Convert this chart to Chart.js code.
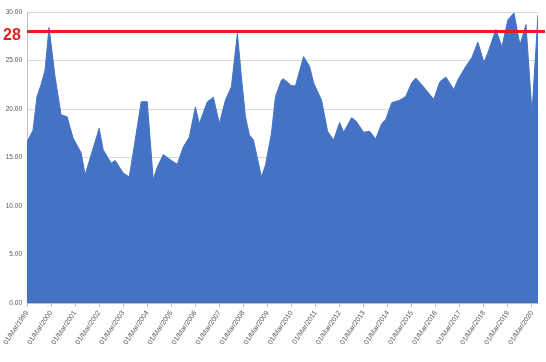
<!DOCTYPE html>
<html>
<head>
<meta charset="utf-8">
<script src="https://cdn.jsdelivr.net/npm/chart.js@4/dist/chart.umd.min.js"></script>
<style>
  html, body { margin: 0; padding: 0; background: #fff; }
  #wrap { width: 546px; height: 362px; position: relative; }
</style>
</head>
<body>
<div id="wrap"><canvas id="chart"></canvas></div>
<script>
// months counted from 01/Mar/1999
const monthIndex = [
  0, 3, 5, 7, 9, 11, 14, 17, 20, 23, 27, 29, 36, 38, 42, 44, 48, 51, 53, 57,
  60, 63, 65, 68, 72, 75, 78, 81, 84, 86, 90, 93, 96, 99, 102, 105, 107, 109, 111, 113,
  117, 119, 122, 124, 127, 128, 132, 134, 138, 141, 143, 147, 150, 153, 156, 158, 162, 164, 168, 171,
  174, 177, 179, 182, 186, 189, 192, 194, 197, 203, 206, 209, 213, 215, 219, 222, 225, 228, 230, 234,
  237, 240, 243, 246, 249, 252, 255
];
const values = [
  16.6, 17.8, 21.3, 22.5, 24.0, 28.4, 23.3, 19.4, 19.2, 17.0, 15.5, 13.2, 18.0, 15.8, 14.4, 14.7, 13.4, 13.0, 15.5, 20.75,
  20.75, 12.7, 14.0, 15.3, 14.7, 14.3, 16.1, 17.1, 20.2, 18.5, 20.75, 21.2, 18.5, 20.9, 22.3, 27.8, 23.3, 19.2, 17.3, 16.8,
  13.0, 14.2, 17.5, 21.3, 23.0, 23.1, 22.4, 22.4, 25.4, 24.4, 22.7, 20.9, 17.7, 16.8, 18.6, 17.6, 19.1, 18.8, 17.6, 17.7,
  16.9, 18.5, 18.9, 20.65, 20.9, 21.3, 22.7, 23.2, 22.5, 21.0, 22.8, 23.3, 22.0, 23.0, 24.4, 25.3, 26.9, 24.8, 25.8, 28.2,
  26.4, 29.2, 29.9, 26.6, 28.7, 19.6, 29.7
];
const tickLabels = [
  '01/Mar/1999', '01/Mar/2000', '01/Mar/2001', '01/Mar/2002', '01/Mar/2003', '01/Mar/2004',
  '01/Mar/2005', '01/Mar/2006', '01/Mar/2007', '01/Mar/2008', '01/Mar/2009', '01/Mar/2010',
  '01/Mar/2011', '01/Mar/2012', '01/Mar/2013', '01/Mar/2014', '01/Mar/2015', '01/Mar/2016',
  '01/Mar/2017', '01/Mar/2018', '01/Mar/2019', '01/Mar/2020'
];
const refValue = 28;

const points = monthIndex.map((m, i) => ({ x: m, y: values[i] }));

const refLine = {
  id: 'refLine',
  afterDatasetsDraw(chart) {
    const { ctx, scales } = chart;
    const y = scales.y.getPixelForValue(refValue);
    ctx.save();
    ctx.strokeStyle = '#e3211c';
    ctx.lineWidth = 3;
    ctx.beginPath();
    ctx.moveTo(chart.chartArea.left, y);
    ctx.lineTo(chart.width - 1, y);
    ctx.stroke();
    ctx.fillStyle = '#e3211c';
    ctx.font = 'bold 16px "Liberation Sans Narrow", "Liberation Sans", Arial, sans-serif';
    ctx.textBaseline = 'middle';
    ctx.textAlign = 'left';
    ctx.fillText(String(refValue), 3, y + 4);
    ctx.restore();
  }
};

new Chart(document.getElementById('chart'), {
  type: 'line',
  data: {
    datasets: [{
      data: points,
      backgroundColor: '#4472c4',
      borderColor: '#4472c4',
      borderWidth: 1,
      pointRadius: 0,
      fill: 'origin',
      tension: 0
    }]
  },
  options: {
    responsive: true,
    maintainAspectRatio: false,
    animation: false,
    layout: { padding: { top: 12, right: 8, left: 0, bottom: 0 } },
    plugins: { legend: { display: false }, tooltip: { enabled: false } },
    scales: {
      x: {
        type: 'linear',
        min: 0,
        max: 255,
        afterFit(scale) { scale.height = 59; },
        afterBuildTicks(scale) {
          scale.ticks = tickLabels.map((_, i) => ({ value: i * 12 }));
        },
        ticks: {
          autoSkip: false,
          maxRotation: 56,
          minRotation: 56,
          padding: 2,
          color: '#595959',
          font: { size: 7, family: 'Liberation Sans, Arial, sans-serif' },
          callback: (v) => tickLabels[Math.round(v / 12)] || ''
        },
        grid: { drawOnChartArea: false, drawTicks: true, tickLength: 4, color: '#bfbfbf' },
        border: { color: '#bfbfbf' }
      },
      y: {
        min: 0,
        max: 30,
        afterFit(scale) { scale.width = 27; },
        ticks: {
          stepSize: 5,
          padding: 5,
          color: '#595959',
          font: { size: 6.5, family: 'Liberation Sans, Arial, sans-serif' },
          callback: (v) => v.toFixed(2)
        },
        grid: { color: '#d9d9d9', drawTicks: false },
        border: { color: '#bfbfbf' }
      }
    }
  },
  plugins: [refLine]
});
</script>
</body>
</html>
